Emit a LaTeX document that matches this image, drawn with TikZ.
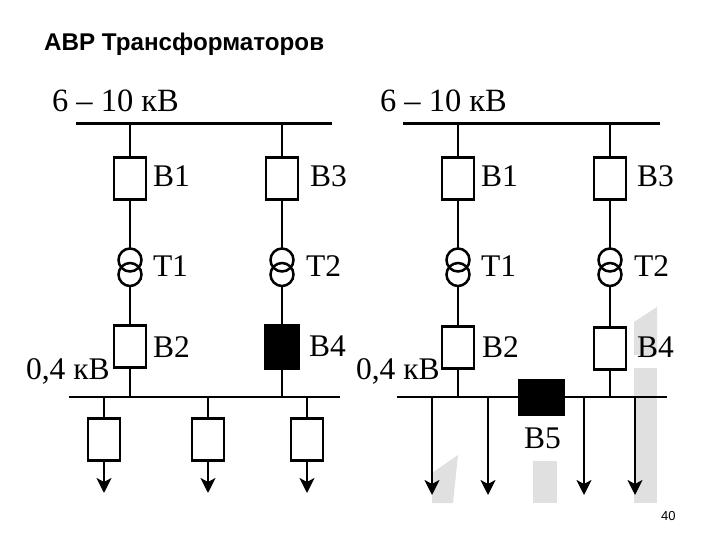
\documentclass[tikz,border=0pt]{standalone}
\usepackage{fontspec}
\setmainfont{Liberation Serif}
\newfontfamily\arialf{Liberation Sans}
\usetikzlibrary{arrows.meta}
\tikzset{
  x=1pt,y=-1pt,
  wire/.style={line width=2.5pt,black},
  busbar/.style={line width=2.8pt,black},
  feeder/.style={line width=2.5pt,black,-{Stealth[length=15pt,width=15pt,inset=4pt]}},
  breaker/.style={draw=black,line width=2.5pt,fill=white,minimum width=32pt,minimum height=42pt,inner sep=0pt,outer sep=0pt},
  closedbrk/.style={breaker,fill=black},
  winding/.style={draw=black,line width=2.5pt,circle,minimum size=23pt,inner sep=0pt,outer sep=0pt},
  lbl/.style={anchor=base west,inner sep=0pt,outer sep=0pt,font=\fontsize{31.5}{32}\selectfont,text=black},
  wmark/.style={fill=black!12,draw=none}
}
\begin{document}
\begin{tikzpicture}
\useasboundingbox (0,0) rectangle (720,540);
\fill[white] (0,0) rectangle (720,540);
% watermark
\fill[wmark] (634,322) -- (657,307) -- (657,355) -- (634,355) -- cycle;
\fill[wmark] (634,368) rectangle (657,503);
\fill[wmark] (533,461) rectangle (557,503);
\fill[wmark] (432,473) -- (458,455) -- (453,503) -- (432,503) -- cycle;
% texts
\node[anchor=base west,inner sep=0pt,font=\arialf\bfseries\fontsize{24.2}{24}\selectfont] (title) at (44,51) {АВР Трансформаторов};
\node[anchor=base west,inner sep=0pt,font=\arialf\fontsize{13}{13}\selectfont] (page) at (661,520) {40};
\node[lbl,font=\fontsize{32.5}{33}\selectfont] (lv) at (52,112) {6 – 10 кВ};
\node[lbl,font=\fontsize{32.5}{33}\selectfont] (rv) at (380,112) {6 – 10 кВ};
\node[lbl] (lb1) at (153,187) {В1};
\node[lbl] (lb3) at (310,187) {В3};
\node[lbl] (lt1) at (153,276) {Т1};
\node[lbl] (lt2) at (306,276) {Т2};
\node[lbl] (lb2) at (153,357) {В2};
\node[lbl] (lb4) at (309,356) {В4};
\node[lbl] (ll) at (26,379) {0,4 кВ};
\node[lbl] (rb1) at (481,187) {В1};
\node[lbl] (rb3) at (637,187) {В3};
\node[lbl] (rt1) at (481,276) {Т1};
\node[lbl] (rt2) at (634,276) {Т2};
\node[lbl] (rb2) at (482,357) {В2};
\node[lbl] (rb4) at (637,357) {В4};
\node[lbl] (rl) at (356,379) {0,4 кВ};
\node[lbl] (rb5) at (524,448) {В5};
% buses
\coordinate (la) at (76,123.5); \coordinate (lb) at (332,123.5);
\coordinate (lc) at (69,397); \coordinate (ld) at (340,397);
\coordinate (ra) at (403,123.5); \coordinate (rbb) at (660,123.5);
\coordinate (rc) at (397,397); \coordinate (rd) at (667,397);
\draw[busbar] (la) -- (lb);
\draw[busbar] (lc) -- (ld);
\draw[busbar] (ra) -- (rbb);
\draw[busbar] (rc) -- (rd);
% left breakers
\node[breaker] (B1) at (130,178.5) {};
\node[breaker] (B3) at (282,178.5) {};
\node[breaker] (B2) at (130,346.5) {};
\node[closedbrk,minimum width=34pt,minimum height=43pt] (B4) at (282,347) {};
% left transformers
\node[winding] (T1a) at (130,260) {};
\node[winding] (T1b) at (130,274.5) {};
\node[winding] (T2a) at (282,260) {};
\node[winding] (T2b) at (282,274.5) {};
% left wires
\foreach \n/\t/\tb/\tl in {B1/T1a/T1b/B2,B3/T2a/T2b/B4}{
  \draw[wire] (\n.north) -- (\n.north |- la);
  \draw[wire] (\n.south) -- (\t.north);
  \draw[wire] (\tb.south) -- (\tl.north);
  \draw[wire] (\tl.south) -- (\tl.south |- lc);
}
% left loads
\foreach \m/\xx in {L1/104,L2/208,L3/307}{
  \node[breaker] (\m) at (\xx,439.5) {};
  \coordinate (\m e) at (\xx,493);
  \draw[wire] (\m.north) -- (\m.north |- lc);
  \draw[feeder] (\m.south) -- (\m e);
}
% right breakers
\node[breaker] (R1) at (458,178.5) {};
\node[breaker] (R3) at (610,178.5) {};
\node[breaker] (R2) at (458,347.5) {};
\node[breaker] (R4) at (610,348.5) {};
\node[closedbrk,minimum width=44pt,minimum height=34pt] (R5) at (541.5,397.5) {};
% right transformers
\node[winding] (U1a) at (458,260) {};
\node[winding] (U1b) at (458,274.5) {};
\node[winding] (U2a) at (610,260) {};
\node[winding] (U2b) at (610,274.5) {};
\foreach \n/\t/\tb/\tl in {R1/U1a/U1b/R2,R3/U2a/U2b/R4}{
  \draw[wire] (\n.north) -- (\n.north |- ra);
  \draw[wire] (\n.south) -- (\t.north);
  \draw[wire] (\tb.south) -- (\tl.north);
  \draw[wire] (\tl.south) -- (\tl.south |- rc);
}
% right feeders
\foreach \m/\xx in {F1/432,F2/488,F3/584,F4/635}{
  \coordinate (\m s) at (\xx,397);
  \coordinate (\m e) at (\xx,495);
  \draw[feeder] (\m s) -- (\m e);
}
\end{tikzpicture}
\end{document}
